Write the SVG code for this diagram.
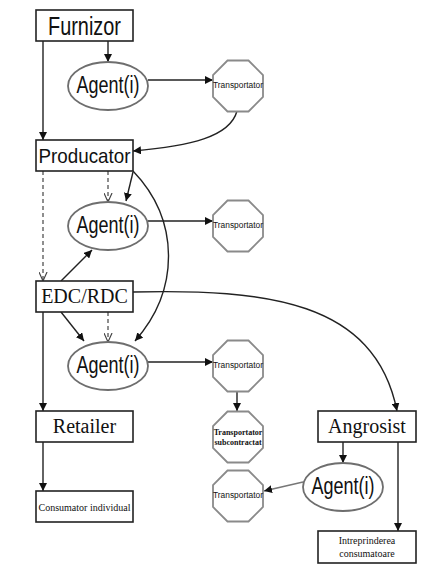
<svg xmlns="http://www.w3.org/2000/svg" width="433" height="576" viewBox="0 0 433 576">
<defs>
<style>
.box{fill:#fff;stroke:#222;stroke-width:1.6}
.ell{fill:#fff;stroke:#6e6e6e;stroke-width:1.8}
.oct{fill:#fff;stroke:#8a8a8a;stroke-width:1.8}
.ln{fill:none;stroke:#222;stroke-width:1.4}
.dash{fill:none;stroke:#444;stroke-width:1.2;stroke-dasharray:4,3}
.sans{font-family:"Liberation Sans",Arial,sans-serif;fill:#111}
.serif{font-family:"Liberation Serif","Times New Roman",serif;fill:#111}
.ag{font-size:23px}
.tr{font-size:8.5px}
</style>
<marker id="ah" viewBox="0 0 10 10" refX="10" refY="5" markerWidth="8" markerHeight="8" markerUnits="userSpaceOnUse" orient="auto">
<path d="M0,0 L10,5 L0,10 Z" fill="#111"/>
</marker>
<marker id="oa" viewBox="0 0 10 10" refX="10" refY="5" markerWidth="9" markerHeight="9" markerUnits="userSpaceOnUse" orient="auto">
<path d="M0,0.5 L10,5 L0,9.5" fill="none" stroke="#444" stroke-width="1.3"/>
</marker>
<polygon id="octo" points="-10.5,-25.5 10.5,-25.5 25,-11 25,11 10.5,25.5 -10.5,25.5 -25,11 -25,-11"/>
</defs>
<rect width="433" height="576" fill="#fff"/>

<g id="connectors">
<line class="ln" x1="108" y1="41" x2="108" y2="62" marker-end="url(#ah)"/>
<line class="ln" x1="43" y1="41" x2="43" y2="140" marker-end="url(#ah)"/>
<line class="ln" x1="148" y1="80" x2="213" y2="80" marker-end="url(#ah)"/>
<path class="ln" d="M237,111 C230,137 190,146 133,151" marker-end="url(#ah)"/>
<line class="dash" x1="43" y1="171" x2="43" y2="281" marker-end="url(#oa)"/>
<line class="dash" x1="108" y1="171" x2="108" y2="202" marker-end="url(#oa)"/>
<line class="ln" x1="133" y1="172" x2="126" y2="201" marker-end="url(#ah)"/>
<path class="ln" d="M133,171 C180,220 180,290 135,341" marker-end="url(#ah)"/>
<line class="ln" x1="148" y1="221" x2="213" y2="221" marker-end="url(#ah)"/>
<line class="ln" x1="61" y1="281" x2="92" y2="250" marker-end="url(#ah)"/>
<path class="ln" d="M133,292 C265,289 375,300 397,411" marker-end="url(#ah)"/>
<line class="ln" x1="61" y1="312" x2="84" y2="341" marker-end="url(#ah)"/>
<line class="dash" x1="108" y1="312" x2="108" y2="342" marker-end="url(#oa)"/>
<line class="ln" x1="43" y1="312" x2="43" y2="411" marker-end="url(#ah)"/>
<line class="ln" x1="148" y1="362" x2="213" y2="362" marker-end="url(#ah)"/>
<line class="ln" x1="237" y1="391" x2="237" y2="411" marker-end="url(#ah)"/>
<line class="ln" x1="43" y1="442" x2="43" y2="491" marker-end="url(#ah)"/>
<line class="ln" x1="343" y1="442" x2="343" y2="463" marker-end="url(#ah)"/>
<line class="ln" x1="398" y1="442" x2="398" y2="531" marker-end="url(#ah)"/>
<line x1="303" y1="482" x2="264" y2="491" fill="none" stroke="#777" stroke-width="1.6" marker-end="url(#ah)"/>
</g>

<g id="furnizor">
<rect class="box" x="36" y="10" width="97" height="31"/>
<text class="sans" x="84.5" y="35" font-size="25" text-anchor="middle" textLength="73" lengthAdjust="spacingAndGlyphs">Furnizor</text>
</g>
<g id="agent1">
<ellipse class="ell" cx="108" cy="86" rx="40" ry="24"/>
<text class="sans ag" x="108" y="93" text-anchor="middle" textLength="63" lengthAdjust="spacingAndGlyphs">Agent(i)</text>
</g>
<g id="transportator1">
<use href="#octo" class="oct" x="238" y="86"/>
<text class="sans tr" x="238" y="88" text-anchor="middle" textLength="50" lengthAdjust="spacingAndGlyphs">Transportator</text>
</g>
<g id="producator">
<rect class="box" x="36" y="140" width="97" height="31"/>
<text class="sans" x="84.5" y="163" font-size="21" text-anchor="middle" textLength="92" lengthAdjust="spacingAndGlyphs">Producator</text>
</g>
<g id="agent2">
<ellipse class="ell" cx="108" cy="226" rx="40" ry="24"/>
<text class="sans ag" x="108" y="233" text-anchor="middle" textLength="63" lengthAdjust="spacingAndGlyphs">Agent(i)</text>
</g>
<g id="transportator2">
<use href="#octo" class="oct" x="238" y="226"/>
<text class="sans tr" x="238" y="228" text-anchor="middle" textLength="50" lengthAdjust="spacingAndGlyphs">Transportator</text>
</g>
<g id="edcrdc">
<rect class="box" x="36" y="281" width="97" height="31"/>
<text class="serif" x="84.5" y="303" font-size="20" text-anchor="middle">EDC/RDC</text>
</g>
<g id="agent3">
<ellipse class="ell" cx="108" cy="366" rx="40" ry="24"/>
<text class="sans ag" x="108" y="373" text-anchor="middle" textLength="63" lengthAdjust="spacingAndGlyphs">Agent(i)</text>
</g>
<g id="transportator3">
<use href="#octo" class="oct" x="238" y="366"/>
<text class="sans tr" x="238" y="368" text-anchor="middle" textLength="50" lengthAdjust="spacingAndGlyphs">Transportator</text>
</g>
<g id="transportator-subcontractat">
<use href="#octo" class="oct" x="238" y="437"/>
<text class="serif" x="238" y="435" font-size="8" font-weight="bold" text-anchor="middle">Transportator</text>
<text class="serif" x="238" y="445" font-size="8" font-weight="bold" text-anchor="middle">subcontractat</text>
</g>
<g id="retailer">
<rect class="box" x="36" y="411" width="97" height="31"/>
<text class="serif" x="84.5" y="433" font-size="20" text-anchor="middle">Retailer</text>
</g>
<g id="consumator">
<rect class="box" x="36" y="491" width="97" height="31"/>
<text class="serif" x="84.5" y="511" font-size="10" text-anchor="middle">Consumator individual</text>
</g>
<g id="transportator4">
<use href="#octo" class="oct" x="238" y="496"/>
<text class="sans tr" x="238" y="498" text-anchor="middle" textLength="50" lengthAdjust="spacingAndGlyphs">Transportator</text>
</g>
<g id="angrosist">
<rect class="box" x="318" y="411" width="98" height="31"/>
<text class="serif" x="367" y="433" font-size="20" text-anchor="middle">Angrosist</text>
</g>
<g id="agent4">
<ellipse class="ell" cx="343" cy="487" rx="40" ry="24"/>
<text class="sans ag" x="343" y="494" text-anchor="middle" textLength="63" lengthAdjust="spacingAndGlyphs">Agent(i)</text>
</g>
<g id="intreprinderea">
<rect class="box" x="318" y="531" width="98" height="32"/>
<text class="serif" x="367" y="544" font-size="10" text-anchor="middle">Intreprinderea</text>
<text class="serif" x="367" y="557" font-size="10" text-anchor="middle">consumatoare</text>
</g>
</svg>
